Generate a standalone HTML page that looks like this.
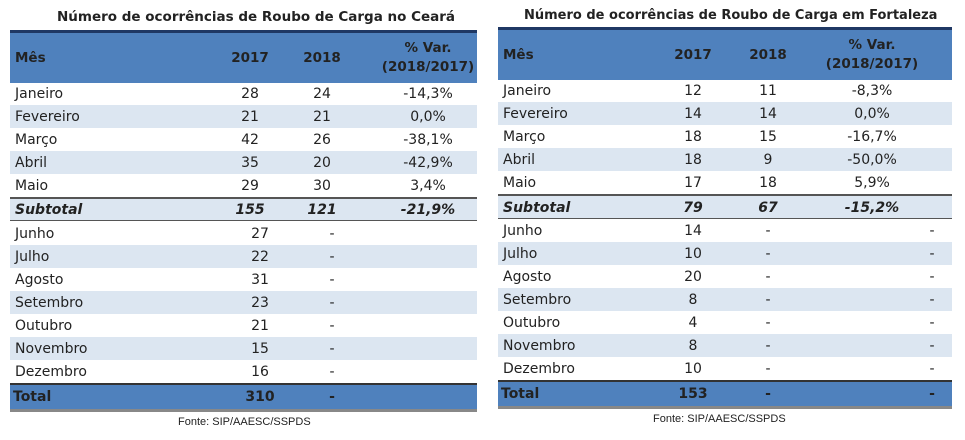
<!DOCTYPE html>
<html><head><meta charset="utf-8"><style>
body{margin:0;width:965px;height:440px;background:#fff;position:relative;overflow:hidden;font-family:"DejaVu Sans",sans-serif;color:#222}
.a{position:absolute}
.t{font-weight:bold;font-size:13px;white-space:nowrap}
.hd{background:#4f81bd;border-top:3px solid #1f3864}
.r{position:absolute;height:23px;font-size:14px}
.s{background:#dce6f1}
.r span,.hd span{position:absolute;top:50%;transform:translate(-50%,-50%);white-space:nowrap}
.r span.l,.hd span.l{transform:translate(0,-50%)}
.b{font-weight:bold}
.i{font-weight:bold;font-style:italic}
.f{font-size:11px;white-space:nowrap;font-family:"Liberation Sans",sans-serif}
</style></head><body>
<!-- LEFT -->
<div class="a t" style="left:57px;top:9px;font-size:13.5px">Número de ocorrências de Roubo de Carga no Ceará</div>
<div class="a hd" style="left:10px;top:30px;width:467px;height:50px;font-size:13.5px;font-weight:bold">
<span class="l" style="left:5px">Mês</span><span style="left:240px">2017</span><span style="left:312px">2018</span><span style="left:418px;text-align:center;line-height:19px">% Var.<br>(2018/2017)</span></div>
<div class="r" style="left:10px;top:82px;width:467px"><span class="l" style="left:5px">Janeiro</span><span style="left:240px">28</span><span style="left:312px">24</span><span style="left:418px">-14,3%</span></div>
<div class="r s" style="left:10px;top:105px;width:467px"><span class="l" style="left:5px">Fevereiro</span><span style="left:240px">21</span><span style="left:312px">21</span><span style="left:418px">0,0%</span></div>
<div class="r" style="left:10px;top:128px;width:467px"><span class="l" style="left:5px">Março</span><span style="left:240px">42</span><span style="left:312px">26</span><span style="left:418px">-38,1%</span></div>
<div class="r s" style="left:10px;top:151px;width:467px"><span class="l" style="left:5px">Abril</span><span style="left:240px">35</span><span style="left:312px">20</span><span style="left:418px">-42,9%</span></div>
<div class="r" style="left:10px;top:174px;width:467px"><span class="l" style="left:5px">Maio</span><span style="left:240px">29</span><span style="left:312px">30</span><span style="left:418px">3,4%</span></div>
<div class="r s i" style="left:10px;top:197px;width:467px;border-top:2px solid #555;height:22px"><span class="l" style="left:5px">Subtotal</span><span style="left:240px">155</span><span style="left:312px">121</span><span style="left:418px">-21,9%</span></div>
<div class="a" style="left:10px;top:220px;width:467px;height:1px;background:#555"></div>
<div class="r" style="left:10px;top:222px;width:467px"><span class="l" style="left:5px">Junho</span><span style="left:250px">27</span><span style="left:322px">-</span></div>
<div class="r s" style="left:10px;top:245px;width:467px"><span class="l" style="left:5px">Julho</span><span style="left:250px">22</span><span style="left:322px">-</span></div>
<div class="r" style="left:10px;top:268px;width:467px"><span class="l" style="left:5px">Agosto</span><span style="left:250px">31</span><span style="left:322px">-</span></div>
<div class="r s" style="left:10px;top:291px;width:467px"><span class="l" style="left:5px">Setembro</span><span style="left:250px">23</span><span style="left:322px">-</span></div>
<div class="r" style="left:10px;top:314px;width:467px"><span class="l" style="left:5px">Outubro</span><span style="left:250px">21</span><span style="left:322px">-</span></div>
<div class="r s" style="left:10px;top:337px;width:467px"><span class="l" style="left:5px">Novembro</span><span style="left:250px">15</span><span style="left:322px">-</span></div>
<div class="r" style="left:10px;top:360px;width:467px"><span class="l" style="left:5px">Dezembro</span><span style="left:250px">16</span><span style="left:322px">-</span></div>
<div class="r b" style="left:10px;top:383px;width:467px;height:24px;background:#4f81bd;border-top:2px solid #333"><span class="l" style="left:3px">Total</span><span style="left:250px">310</span><span style="left:322px">-</span></div>
<div class="a" style="left:10px;top:409px;width:467px;height:3px;background:#888"></div>
<div class="a f" style="left:178px;top:416px">Fonte: SIP/AAESC/SSPDS</div>
<!-- RIGHT -->
<div class="a t" style="left:524px;top:8px">Número de ocorrências de Roubo de Carga em Fortaleza</div>
<div class="a hd" style="left:498px;top:27px;width:454px;height:50px;font-size:13.5px;font-weight:bold">
<span class="l" style="left:5px">Mês</span><span style="left:195px">2017</span><span style="left:270px">2018</span><span style="left:374px;text-align:center;line-height:19px">% Var.<br>(2018/2017)</span></div>
<div class="r" style="left:498px;top:79px;width:454px"><span class="l" style="left:5px">Janeiro</span><span style="left:195px">12</span><span style="left:270px">11</span><span style="left:374px">-8,3%</span></div>
<div class="r s" style="left:498px;top:102px;width:454px"><span class="l" style="left:5px">Fevereiro</span><span style="left:195px">14</span><span style="left:270px">14</span><span style="left:374px">0,0%</span></div>
<div class="r" style="left:498px;top:125px;width:454px"><span class="l" style="left:5px">Março</span><span style="left:195px">18</span><span style="left:270px">15</span><span style="left:374px">-16,7%</span></div>
<div class="r s" style="left:498px;top:148px;width:454px"><span class="l" style="left:5px">Abril</span><span style="left:195px">18</span><span style="left:270px">9</span><span style="left:374px">-50,0%</span></div>
<div class="r" style="left:498px;top:171px;width:454px"><span class="l" style="left:5px">Maio</span><span style="left:195px">17</span><span style="left:270px">18</span><span style="left:374px">5,9%</span></div>
<div class="r s i" style="left:498px;top:194px;width:454px;border-top:2px solid #555;height:23px"><span class="l" style="left:5px">Subtotal</span><span style="left:195px">79</span><span style="left:270px">67</span><span style="left:374px">-15,2%</span></div>
<div class="a" style="left:498px;top:218px;width:454px;height:1px;background:#555"></div>
<div class="r" style="left:498px;top:219px;width:454px"><span class="l" style="left:5px">Junho</span><span style="left:195px">14</span><span style="left:270px">-</span><span style="left:434px">-</span></div>
<div class="r s" style="left:498px;top:242px;width:454px"><span class="l" style="left:5px">Julho</span><span style="left:195px">10</span><span style="left:270px">-</span><span style="left:434px">-</span></div>
<div class="r" style="left:498px;top:265px;width:454px"><span class="l" style="left:5px">Agosto</span><span style="left:195px">20</span><span style="left:270px">-</span><span style="left:434px">-</span></div>
<div class="r s" style="left:498px;top:288px;width:454px"><span class="l" style="left:5px">Setembro</span><span style="left:195px">8</span><span style="left:270px">-</span><span style="left:434px">-</span></div>
<div class="r" style="left:498px;top:311px;width:454px"><span class="l" style="left:5px">Outubro</span><span style="left:195px">4</span><span style="left:270px">-</span><span style="left:434px">-</span></div>
<div class="r s" style="left:498px;top:334px;width:454px"><span class="l" style="left:5px">Novembro</span><span style="left:195px">8</span><span style="left:270px">-</span><span style="left:434px">-</span></div>
<div class="r" style="left:498px;top:357px;width:454px"><span class="l" style="left:5px">Dezembro</span><span style="left:195px">10</span><span style="left:270px">-</span><span style="left:434px">-</span></div>
<div class="r b" style="left:498px;top:380px;width:454px;height:24px;background:#4f81bd;border-top:2px solid #333"><span class="l" style="left:3px">Total</span><span style="left:195px">153</span><span style="left:270px">-</span><span style="left:434px">-</span></div>
<div class="a" style="left:498px;top:406px;width:454px;height:3px;background:#888"></div>
<div class="a f" style="left:653px;top:413px">Fonte: SIP/AAESC/SSPDS</div>
</body></html>
